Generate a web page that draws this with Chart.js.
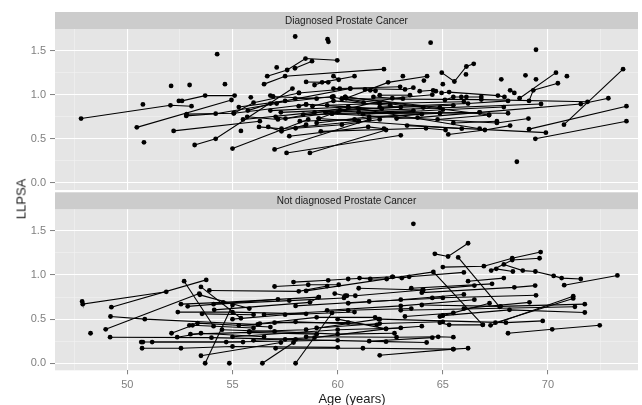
<!DOCTYPE html>
<html>
<head>
<meta charset="utf-8">
<script src="https://cdn.jsdelivr.net/npm/chart.js@4"></script>
<style>
  body { margin: 0; background: #fff; }
  #wrap { position: relative; width: 642px; height: 405px; font-family: "Liberation Sans", Arial, sans-serif; }
  canvas { position: absolute; left: 0; }
  #cTop { top: 0; }
  #cBot { top: 190px; }
  .ttl { position: absolute; color: #1A1A1A; font-size: 13px; font-weight: normal; white-space: nowrap; line-height: 1; }
  #xTitle { left: 352px; top: 398px; transform: translate(-50%, -50%); }
  #yTitle { left: 21px; top: 199px; transform: translate(-50%, -50%) rotate(-90deg); }
</style>
</head>
<body>
<div id="wrap">
  <canvas id="cTop" width="642" height="194"></canvas>
  <canvas id="cBot" width="642" height="215"></canvas>
  <div class="ttl" id="xTitle">Age (years)</div>
  <div class="ttl" id="yTitle">LLPSA</div>
</div>
<script>
// facet labels
const panelLabels = ["Diagnosed Prostate Cancer", "Not diagnosed Prostate Cancer"];

// axis ticks (major ones get a label)
const xTicks = [47.5, 50, 52.5, 55, 57.5, 60, 62.5, 65, 67.5, 70, 72.5];
const xMajor = [50, 55, 60, 65, 70];
const yTicks = [0, 0.25, 0.5, 0.75, 1, 1.25, 1.5];
const yMajor = [0, 0.5, 1, 1.5];

// one entry per man: [age, llpsa] visits
const diagnosed = [
  [[47.8,0.73],[52.05,0.88],[53.05,0.87]],
  [[50.74,0.89]],
  [[50.79,0.46]],
  [[50.45,0.63],[54.95,0.94]],
  [[52.08,1.10]],
  [[52.96,1.11]],
  [[52.45,0.93],[52.6,0.93],[53.7,0.99],[55.1,0.99]],
  [[54.27,1.46]],
  [[54.64,1.12]],
  [[52.2,0.59],[56.3,0.70]],
  [[52.8,0.76],[54.2,0.785],[57.1,0.90]],
  [[52.82,0.78],[55.06,0.79],[58.5,0.89]],
  [[53.2,0.43],[54.2,0.50],[57.85,1.07]],
  [[55.0,0.39],[58.6,0.72]],
  [[55.4,0.59]],
  [[55.87,0.97]],
  [[56.5,1.12],[57.5,1.21],[62.2,1.29]],
  [[56.65,1.21],[57.6,1.28],[58.47,1.41],[59.98,1.39]],
  [[57.97,1.30],[58.78,1.38]],
  [[57.1,1.31]],
  [[57.98,1.66]],
  [[59.52,1.63],[59.56,1.60]],
  [[58.9,1.11],[59.26,1.14],[60.8,1.21]],
  [[58.5,1.145],[59.55,1.14]],
  [[59.8,1.21],[60.05,1.17]],
  [[59.8,1.07],[60.1,1.07],[62.97,1.09]],
  [[60.4,0.96],[62.4,1.14],[64.25,1.21]],
  [[64.1,1.16]],
  [[63.1,1.21]],
  [[64.42,1.59]],
  [[64.95,1.25],[65.55,1.15],[66.12,1.32],[66.47,1.35]],
  [[66.1,1.23]],
  [[65.0,1.12]],
  [[61.3,1.06],[61.55,1.05],[61.8,1.045]],
  [[58.16,1.02],[60.6,1.07],[63.2,1.06],[63.6,1.08]],
  [[63.9,1.04],[64.54,1.05],[64.67,1.04]],
  [[64.94,1.02],[65.3,1.03],[67.62,0.99],[67.93,0.975]],
  [[65.1,0.94],[65.5,0.975],[65.88,0.975],[66.12,0.975],[66.83,0.975]],
  [[61.7,0.975],[63.1,0.955]],
  [[62.0,0.995],[63.44,0.995]],
  [[60.2,0.955],[66.83,0.945],[71.88,0.92]],
  [[60.36,0.975],[67.2,0.77]],
  [[58.36,0.775],[66.75,0.80],[71.56,0.895],[72.87,0.96]],
  [[68.2,1.05],[68.4,1.02]],
  [[68.65,0.96],[70.38,1.25]],
  [[69.1,0.93],[69.3,1.05],[70.47,1.13]],
  [[67.78,1.175]],
  [[68.93,1.22]],
  [[69.43,1.175]],
  [[70.9,1.21]],
  [[69.43,1.51]],
  [[68.52,0.24]],
  [[59.73,0.785],[67.57,0.68],[69.07,0.73]],
  [[61.0,0.80],[68.1,0.79]],
  [[59.42,0.80],[69.67,0.895]],
  [[70.76,0.66],[73.57,1.29]],
  [[69.1,0.61],[73.73,0.87]],
  [[69.4,0.50],[73.73,0.70]],
  [[63.3,0.65],[69.9,0.57]],
  [[57.57,0.34],[63.0,0.54]],
  [[57.0,0.38],[61.5,0.72]],
  [[58.68,0.34],[62.3,0.60]],
  [[57.7,0.53],[61.45,0.635],[62.2,0.615]],
  [[59.2,0.585],[64.2,0.62],[65.13,0.60]],
  [[65.26,0.55],[67.0,0.60],[68.2,0.65]],
  [[62.8,0.73],[63.8,0.74],[66.75,0.80]],
  [[64.75,0.72],[67.2,0.77]],
  [[65.5,0.68],[67.57,0.70]],
  [[59.1,0.73],[61.0,0.70],[65.9,0.615]],
  [[56.8,0.82],[60.5,0.86],[66.75,0.615]],
  [[55.06,0.79],[56.0,0.91],[58.16,1.02]],
  [[55.3,0.86],[57.5,0.93],[60.6,1.07]],
  [[55.73,0.82],[56.8,0.90],[59.8,0.98]],
  [[55.7,0.75],[57.16,0.72],[60.0,0.80]],
  [[56.26,0.635],[57.33,0.615],[61.0,0.70]],
  [[56.7,0.635],[57.33,0.585],[58.5,0.66]],
  [[56.8,0.99],[56.93,0.98],[59.0,0.955]],
  [[57.05,0.75],[57.52,0.73],[60.5,0.86]],
  [[57.98,0.955],[59.73,0.975],[61.23,0.91]],
  [[58.15,0.87],[58.5,0.89],[62.1,0.84]],
  [[58.8,0.87],[59.8,0.93],[62.5,0.88]],
  [[59.1,0.73],[59.73,0.785],[63.6,0.82]],
  [[60.2,0.955],[64.07,0.855]],
  [[60.36,0.975],[64.86,0.855]],
  [[59.0,0.68],[61.5,0.75],[64.86,0.79]],
  [[58.2,0.70],[60.8,0.72],[64.0,0.78]],
  [[57.3,0.80],[61.0,0.84],[65.5,0.88]],
  [[59.5,0.88],[62.0,0.90],[66.0,0.92]],
  [[55.5,0.72],[58.9,0.80],[63.0,0.86]],
  [[58.0,0.62],[60.2,0.66],[62.0,0.72]],
  [[60.1,0.82],[62.6,0.96],[64.5,1.0]],
  [[61.2,0.78],[65.0,0.83],[67.9,0.86]],
  [[62.0,0.86],[66.2,0.90],[68.1,0.93]]
];

const notDiagnosed = [
  [[47.85,0.70],[47.88,0.67],[51.85,0.81]],
  [[49.24,0.635],[53.75,0.945]],
  [[49.2,0.53],[50.83,0.50],[56.2,0.44]],
  [[48.97,0.385],[53.42,0.79]],
  [[48.25,0.34]],
  [[49.18,0.295],[54.0,0.29],[58.0,0.27]],
  [[50.66,0.24],[50.74,0.24],[54.7,0.24],[60.0,0.26]],
  [[51.18,0.24],[55.5,0.24]],
  [[50.7,0.17],[52.55,0.17],[55.0,0.19],[60.0,0.18]],
  [[52.7,0.93],[54.1,0.42]],
  [[53.7,0.0],[55.0,0.66]],
  [[54.85,0.0]],
  [[56.42,0.0],[57.9,0.235]],
  [[58.0,0.0],[59.73,0.57]],
  [[53.5,0.085],[57.3,0.235]],
  [[53.5,0.865],[55.4,0.51]],
  [[53.9,0.825],[58.15,0.815],[59.5,0.875]],
  [[57.0,0.87],[58.6,0.89],[60.05,0.89]],
  [[57.9,0.92],[59.55,0.94],[60.5,0.955],[62.6,0.98]],
  [[52.1,0.34],[53.1,0.43],[56.0,0.40]],
  [[52.37,0.295],[53.5,0.34],[56.5,0.30]],
  [[52.4,0.58],[55.0,0.58],[58.5,0.56]],
  [[52.55,0.67],[54.56,0.69],[59.1,0.75]],
  [[52.87,0.645],[57.16,0.725]],
  [[52.95,0.43],[53.34,0.455],[56.8,0.41]],
  [[53.0,0.33],[55.8,0.35],[59.0,0.33]],
  [[53.45,0.775],[55.8,0.62]],
  [[53.55,0.56],[56.0,0.55]],
  [[54.1,0.67],[57.7,0.71],[60.3,0.74]],
  [[54.13,0.605],[58.68,0.69],[59.1,0.75]],
  [[55.0,0.50],[57.5,0.55],[60.8,0.58]],
  [[55.3,0.43],[58.0,0.47],[61.86,0.435]],
  [[55.8,0.36],[58.5,0.38],[61.95,0.50]],
  [[56.0,0.26],[58.9,0.29],[62.3,0.39]],
  [[56.3,0.45],[59.0,0.52],[61.78,0.52]],
  [[54.5,0.38],[57.0,0.36],[60.0,0.33],[62.7,0.34]],
  [[57.05,0.17],[61.2,0.17],[65.5,0.16]],
  [[62.0,0.09],[65.5,0.16],[66.2,0.17]],
  [[57.5,0.27],[62.3,0.245],[64.23,0.235]],
  [[58.5,0.30],[62.8,0.295],[64.78,0.30],[65.5,0.295]],
  [[59.86,0.79],[60.36,0.765]],
  [[60.44,0.765],[60.84,0.765],[64.04,0.83]],
  [[61.04,0.965],[61.55,0.955],[62.33,0.955]],
  [[62.62,0.98],[63.05,0.965],[63.4,0.98],[66.0,1.03]],
  [[63.6,1.58]],
  [[64.62,1.24],[65.25,1.21],[66.2,1.36]],
  [[65.73,1.20],[67.7,0.64]],
  [[58.5,0.82],[64.55,1.035],[66.9,0.435]],
  [[65.0,1.09],[66.95,1.10],[68.3,1.19],[69.65,1.26]],
  [[67.3,1.05],[68.3,1.17],[69.6,1.19]],
  [[67.9,1.12],[68.8,1.05],[69.4,1.04],[70.27,0.99],[70.65,0.965],[71.56,0.955]],
  [[70.77,0.885],[73.3,0.995]],
  [[67.54,1.07],[68.33,1.04]],
  [[66.2,0.93],[67.9,0.965]],
  [[63.5,0.85],[67.34,0.90]],
  [[64.0,0.80],[68.4,0.86],[69.39,0.88]],
  [[64.5,0.74],[69.43,0.77]],
  [[66.0,0.62],[69.12,0.69]],
  [[67.27,0.43],[71.2,0.76]],
  [[67.5,0.46],[71.2,0.735]],
  [[63.0,0.60],[71.28,0.64]],
  [[64.0,0.66],[67.75,0.645],[71.75,0.67]],
  [[65.0,0.54],[68.17,0.605],[71.75,0.575]],
  [[62.0,0.50],[68.0,0.46],[69.75,0.48]],
  [[68.1,0.34],[70.2,0.385],[72.46,0.43]],
  [[64.86,0.53],[65.0,0.54],[67.22,0.68]],
  [[64.86,0.46],[65.3,0.435],[66.9,0.435]],
  [[63.2,0.53],[65.5,0.57]],
  [[59.5,0.60],[63.0,0.65],[66.5,0.72]],
  [[58.0,0.65],[61.5,0.70],[65.0,0.74]],
  [[60.0,0.50],[62.3,0.39],[64.0,0.42]],
  [[56.5,0.55],[60.5,0.60],[63.5,0.62]],
  [[61.0,0.85],[64.07,0.83],[66.5,0.88]],
  [[60.5,0.68],[63.0,0.72],[66.0,0.78]],
  [[55.0,0.30],[60.0,0.38],[63.0,0.40]],
  [[57.0,0.46],[60.5,0.46]],
  [[59.0,0.40],[62.0,0.45],[65.0,0.47]],
  [[61.5,0.25],[64.5,0.29]]
];

const tickFont = { family: "'Liberation Sans', Arial, sans-serif", size: 11 };

// grey panel + facet strip, drawn under the grid
const panelPlugin = {
  id: 'panel',
  beforeDraw(chart, args, opts) {
    const { ctx, chartArea: a } = chart;
    ctx.save();
    ctx.fillStyle = '#E5E5E5';
    ctx.fillRect(a.left, a.top, a.right - a.left, a.bottom - a.top);
    ctx.fillStyle = '#CCCCCC';
    ctx.fillRect(a.left, a.top - opts.strip, a.right - a.left, opts.strip);
    ctx.fillStyle = '#1A1A1A';
    ctx.font = "10px 'Liberation Sans', Arial, sans-serif";
    ctx.textAlign = 'center';
    ctx.textBaseline = 'middle';
    ctx.fillText(opts.label, (a.left + a.right) / 2, a.top - opts.strip / 2 + 0.5);
    ctx.restore();
  }
};

function makeSets(subjects) {
  return subjects.map(s => ({
    data: s.map(p => ({ x: p[0], y: p[1] })),
    showLine: true,
    borderColor: '#000',
    backgroundColor: '#000',
    borderWidth: 1.1,
    pointRadius: 2.4,
    pointBorderWidth: 0
  }));
}

function panelChart(canvasID, subjects, label, showX, padTop, xHeight) {
  const ctx = document.getElementById(canvasID).getContext('2d');
  return new Chart(ctx, {
    type: 'scatter',
    data: { datasets: makeSets(subjects) },
    plugins: [panelPlugin],
    options: {
      responsive: false,
      animation: false,
      devicePixelRatio: 1,
      events: [],
      layout: { padding: { top: padTop, right: 1, left: 0, bottom: 0 } },
      plugins: {
        legend: { display: false },
        tooltip: { enabled: false },
        panel: { label: label, strip: 17 }
      },
      scales: {
        x: {
          type: 'linear',
          min: 46.56,
          max: 74.28,
          afterBuildTicks: s => { s.ticks = xTicks.map(v => ({ value: v })); },
          afterFit: s => { s.height = xHeight; s.paddingLeft = 0; s.paddingRight = 0; },
          border: { display: false },
          grid: {
            color: c => xMajor.includes(c.tick.value) ? '#FFFFFF' : '#F2F2F2',
            lineWidth: c => xMajor.includes(c.tick.value) ? 1.1 : 0.6,
            drawTicks: showX,
            tickLength: 4,
            tickColor: c => xMajor.includes(c.tick.value) ? '#7F7F7F' : 'rgba(0,0,0,0)',
            tickWidth: 1
          },
          ticks: {
            display: showX,
            autoSkip: false,
            maxRotation: 0,
            padding: 4,
            color: '#7F7F7F',
            font: tickFont,
            callback: v => xMajor.includes(v) ? String(v) : ''
          }
        },
        y: {
          min: -0.08,
          max: 1.745,
          afterBuildTicks: s => { s.ticks = yTicks.map(v => ({ value: v })); },
          afterFit: s => { s.width = 55; s.paddingTop = 0; s.paddingBottom = 0; },
          border: { display: false },
          grid: {
            color: c => yMajor.includes(c.tick.value) ? '#FFFFFF' : '#F2F2F2',
            lineWidth: c => yMajor.includes(c.tick.value) ? 1.1 : 0.6,
            tickLength: 5,
            tickColor: c => yMajor.includes(c.tick.value) ? '#7F7F7F' : 'rgba(0,0,0,0)',
            tickWidth: 1
          },
          ticks: {
            padding: 4,
            color: '#7F7F7F',
            font: tickFont,
            callback: v => yMajor.includes(v) ? v.toFixed(1) : ''
          }
        }
      }
    }
  });
}

panelChart('cTop', diagnosed, panelLabels[0], false, 29, 1);
panelChart('cBot', notDiagnosed, panelLabels[1], true, 19.3, 34.7);
</script>
</body>
</html>
